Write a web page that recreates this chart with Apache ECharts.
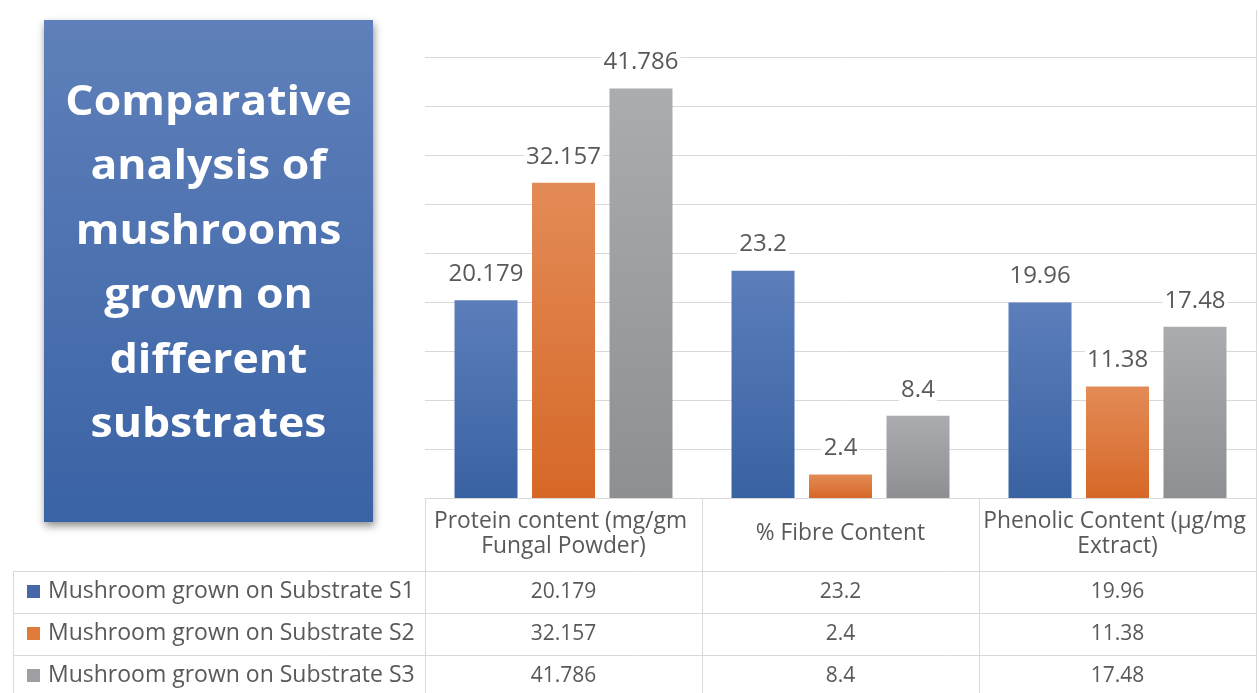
<!DOCTYPE html>
<html>
<head>
<meta charset="utf-8">
<script src="https://cdn.jsdelivr.net/npm/echarts@6/dist/echarts.min.js"></script>
<style>
  html, body { margin: 0; padding: 0; background: #ffffff; overflow: hidden; }
  #chart { width: 1259px; height: 693px; }
</style>
</head>
<body>
<div id="chart"></div>
<script>
// Measured contents of the three mushroom samples
const categories = ['Protein content (mg/gm Fungal Powder)', '% Fibre Content', 'Phenolic Content (µg/mg Extract)'];
const seriesNames = ['Mushroom grown on Substrate S1', 'Mushroom grown on Substrate S2', 'Mushroom grown on Substrate S3'];
const substrateS1 = [20.179, 23.2, 19.96];
const substrateS2 = [32.157, 2.4, 11.38];
const substrateS3 = [41.786, 8.4, 17.48];
const titleLines = ['Comparative', 'analysis of', 'mushrooms', 'grown on', 'different', 'substrates'];

const FONT = '"Open Sans", Lato, sans-serif';
const TEXT = '#595959';
const RULE = '#d9d9d9';

function vGrad(top, bottom) {
  return new echarts.graphic.LinearGradient(0, 0, 0, 1, [
    { offset: 0, color: top },
    { offset: 1, color: bottom }
  ]);
}

const palette = [
  vGrad('#5c7ebb', '#3962a2'),
  vGrad('#e38b57', '#d66827'),
  vGrad('#aaacaf', '#8d8f92')
];
const legendColors = ['#4468aa', '#e07b39', '#9d9fa2'];
const seriesValues = [substrateS1, substrateS2, substrateS3];

const chart = echarts.init(document.getElementById('chart'), null, { renderer: 'canvas' });

// one hidden-line category axis per table row, each carrying that row's values
const rowOffsets = [94, 136, 178];
const valueAxes = seriesValues.map((vals, i) => ({
  type: 'category',
  gridIndex: 0,
  position: 'bottom',
  offset: rowOffsets[i],
  data: vals.map(v => String(v)),
  axisLine: { show: false },
  axisTick: { show: false },
  splitLine: { show: false },
  axisLabel: {
    margin: 0,
    verticalAlign: 'middle',
    fontFamily: FONT,
    fontSize: 21,
    color: TEXT
  }
}));

const option = {
  backgroundColor: '#ffffff',
  animation: false,
  grid: { left: 425, right: 0, top: 57, bottom: 195, containLabel: false },
  legend: {
    orient: 'vertical',
    left: 27,
    top: 580,
    padding: 0,
    itemWidth: 13,
    itemHeight: 13,
    itemGap: 19,
    icon: 'rect',
    selectedMode: false,
    textStyle: { fontFamily: FONT, fontSize: 23, lineHeight: 23, color: TEXT, padding: [0, 0, 0, 3] },
    data: seriesNames.map((n, i) => ({ name: n, itemStyle: { color: legendColors[i] } }))
  },
  xAxis: [{
    type: 'category',
    data: categories,
    axisLine: { show: true, lineStyle: { color: RULE, width: 1 } },
    axisTick: { show: false },
    axisLabel: {
      interval: 0,
      margin: 36,
      verticalAlign: 'middle',
      width: 278,
      overflow: 'break',
      lineHeight: 25,
      fontFamily: FONT,
      fontSize: 22.8,
      color: TEXT
    }
  }].concat(valueAxes),
  yAxis: {
    type: 'value',
    min: 0,
    max: 45,
    interval: 5,
    axisLine: { show: false },
    axisTick: { show: false },
    axisLabel: { show: false },
    splitLine: { show: true, lineStyle: { color: RULE, width: 1 } }
  },
  series: seriesValues.map((vals, i) => ({
    name: seriesNames[i],
    type: 'bar',
    xAxisIndex: 0,
    barWidth: 63,
    barGap: '23%',
    data: vals,
    itemStyle: { color: palette[i] },
    label: {
      show: true,
      position: 'top',
      distance: 14,
      fontFamily: FONT,
      fontSize: 24,
      color: TEXT,
      backgroundColor: '#ffffff',
      padding: [0, 2]
    }
  }))
};

chart.setOption(option);

// Title panel and data-table rules, placed from the category axis geometry
const centers = categories.map(c => chart.convertToPixel({ xAxisIndex: 0 }, c));
const band = centers[1] - centers[0];
const colEdges = [centers[0] - band / 2].concat(centers.map(c => c + band / 2));
const baseY = chart.convertToPixel({ yAxisIndex: 0 }, 0);
const tableLeft = 13;
const tableRight = Math.min(colEdges[colEdges.length - 1], 1256);
colEdges[colEdges.length - 1] = tableRight;
const rowLines = [571, 613, 655];

const lineStyle = { stroke: RULE, lineWidth: 1 };
const graphics = [];

// vertical rules of the value columns
colEdges.forEach((x, i) => {
  const px = Math.round(x) + 0.5;
  const top = i === colEdges.length - 1 ? 10 : baseY;
  graphics.push({ type: 'line', shape: { x1: px, y1: top, x2: px, y2: 693 }, style: lineStyle, silent: true });
});
graphics.push({ type: 'line', shape: { x1: tableLeft + 0.5, y1: rowLines[0], x2: tableLeft + 0.5, y2: 693 }, style: lineStyle, silent: true });
rowLines.forEach(y => {
  graphics.push({ type: 'line', shape: { x1: tableLeft, y1: y + 0.5, x2: tableRight, y2: y + 0.5 }, style: lineStyle, silent: true });
});

// title panel
const box = { x: 44, y: 20, w: 329, h: 502 };
graphics.push({
  type: 'rect',
  shape: { x: box.x, y: box.y, width: box.w, height: box.h },
  style: {
    fill: vGrad('#5f80ba', '#3a63a5'),
    shadowBlur: 8,
    shadowOffsetX: 1,
    shadowOffsetY: 4,
    shadowColor: 'rgba(0,0,0,0.45)'
  },
  silent: true
});
graphics.push({
  type: 'text',
  x: box.x + box.w / 2,
  y: box.y + box.h / 2 - 7,
  scaleX: 1.06,
  style: {
    text: titleLines.join('\n'),
    fontFamily: FONT,
    fontWeight: 'bold',
    fontSize: 42,
    lineHeight: 64.5,
    fill: '#ffffff',
    align: 'center',
    verticalAlign: 'middle'
  },
  silent: true
});

chart.setOption({ graphic: graphics });
</script>
</body>
</html>
